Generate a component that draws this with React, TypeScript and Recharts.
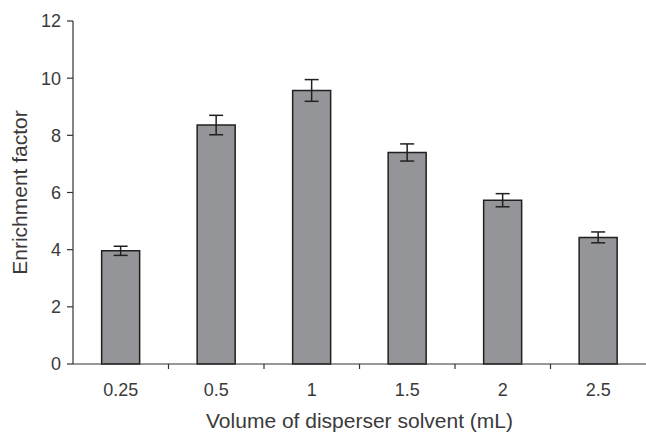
import { BarChart, Bar, XAxis, YAxis, ErrorBar } from "recharts";

const volumes = ["0.25", "0.5", "1", "1.5", "2", "2.5"];
const enrichment = [3.96, 8.36, 9.57, 7.4, 5.73, 4.43];
const errors = [0.16, 0.34, 0.38, 0.3, 0.23, 0.19];
const yTicks = [0, 2, 4, 6, 8, 10, 12];

const data = volumes.map((v, i) => ({ volume: v, ef: enrichment[i], err: errors[i] }));

const FONT = "'Liberation Sans', Arial, sans-serif";
const TEXT = "#3a3a3a";
const AXIS = "#333";

function CategoryTick(props: any) {
  const { x, y, payload, index, visibleTicksCount } = props;
  const half = payload.offset ?? 0;
  const last = index === visibleTicksCount - 1;
  return (
    <g>
      {!last && (
        <line x1={x + half} x2={x + half} y1={y} y2={y + 5} stroke={AXIS} strokeWidth={1.2} />
      )}
      <text x={x} y={y + 32} textAnchor="middle" fontSize={18} fontFamily={FONT} fill={TEXT}>
        {payload.value}
      </text>
    </g>
  );
}

export default function App() {
  return (
    <div style={{ position: "absolute", left: 0, top: 0, background: "#fff" }}>
      <BarChart
        width={646}
        height={433}
        data={data}
        margin={{ top: 21, right: 0, bottom: 0, left: 0 }}
        barCategoryGap="30%"
      >
        <XAxis
          dataKey="volume"
          height={69}
          tickLine={false}
          tickSize={0}
          tickMargin={0}
          axisLine={{ stroke: AXIS, strokeWidth: 1.2 }}
          tick={<CategoryTick />}
          interval={0}
          label={{
            content: (p: any) => {
              const vb = p.viewBox;
              return (
                <text
                  x={vb.x + vb.width / 2}
                  y={vb.y + 64}
                  textAnchor="middle"
                  fontSize={21}
                  fontFamily={FONT}
                  fill={TEXT}
                >
                  Volume of disperser solvent (mL)
                </text>
              );
            },
          }}
        />
        <YAxis
          width={73}
          domain={[0, 12]}
          ticks={yTicks}
          tickSize={6}
          tickMargin={6}
          axisLine={{ stroke: AXIS, strokeWidth: 1.2 }}
          tickLine={{ stroke: AXIS, strokeWidth: 1.2 }}
          tick={{ fontSize: 18, fontFamily: FONT, fill: TEXT }}
          label={{
            content: (p: any) => {
              const vb = p.viewBox;
              const cx = vb.x + 19;
              const cy = vb.y + vb.height / 2;
              return (
                <text
                  x={cx}
                  y={cy}
                  transform={`rotate(-90 ${cx} ${cy})`}
                  textAnchor="middle"
                  dominantBaseline="central"
                  fontSize={21}
                  fontFamily={FONT}
                  fill={TEXT}
                >
                  Enrichment factor
                </text>
              );
            },
          }}
        />
        <Bar
          dataKey="ef"
          fill="#939598"
          stroke="#231f20"
          strokeWidth={1.5}
          isAnimationActive={false}
        >
          <ErrorBar dataKey="err" width={7} stroke="#231f20" strokeWidth={1.5} />
        </Bar>
      </BarChart>
    </div>
  );
}
